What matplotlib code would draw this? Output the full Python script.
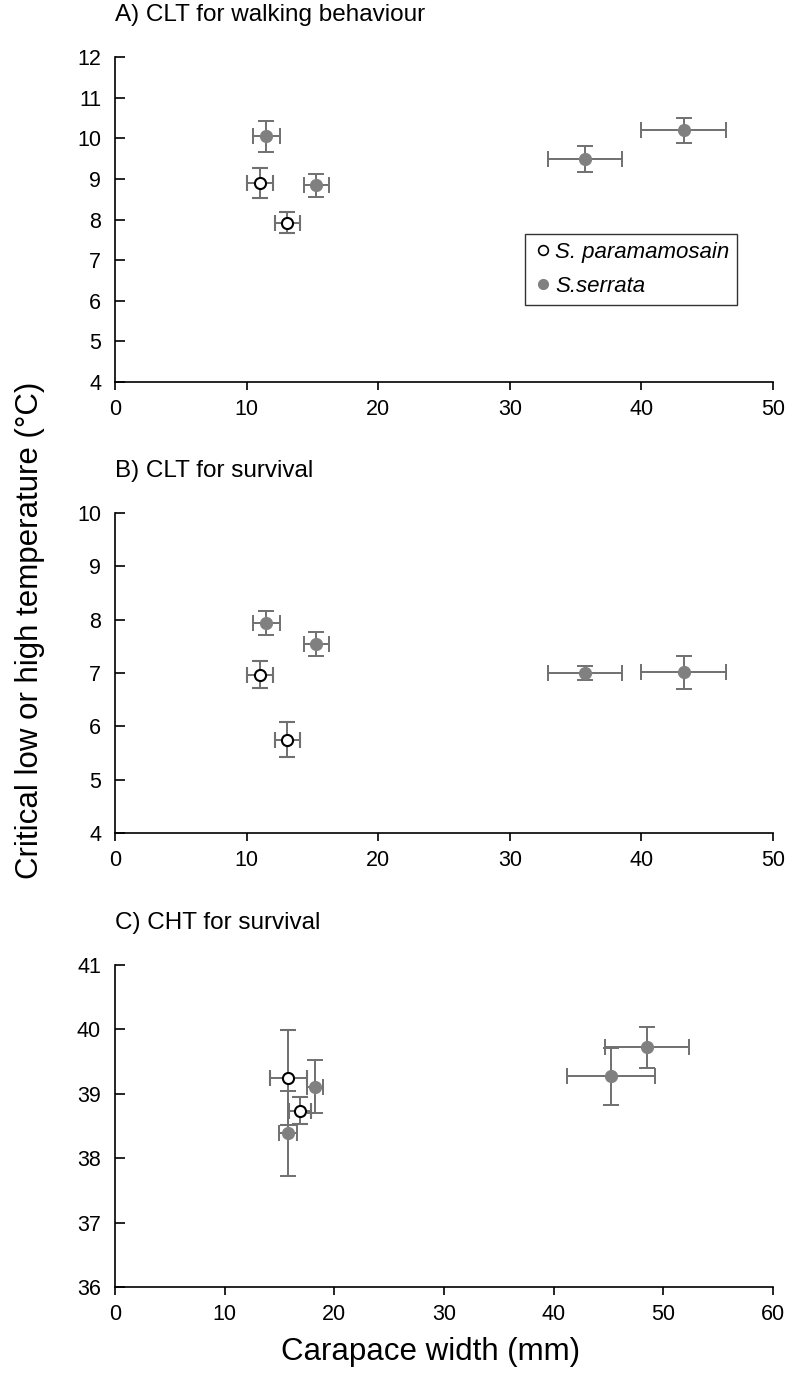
import matplotlib
matplotlib.use("Agg")
import matplotlib.pyplot as plt
from matplotlib.lines import Line2D

plt.rcParams['font.family'] = ['Liberation Sans', 'DejaVu Sans']

# carapace width (mm) and temperatures
# A) CLT for walking behaviour
a_par_x = [11.0, 13.1]
a_par_xerr = [1.0, 0.93]
a_par_y = [8.91, 7.92]
a_par_yerr = [0.37, 0.26]
a_ser_x = [11.5, 15.3, 35.7, 43.2]
a_ser_xerr = [1.0, 0.95, 2.8, 3.2]
a_ser_y = [10.05, 8.84, 9.49, 10.20]
a_ser_yerr = [0.38, 0.28, 0.32, 0.31]

# B) CLT for survival
b_par_x = [11.0, 13.1]
b_par_xerr = [1.0, 0.93]
b_par_y = [6.97, 5.75]
b_par_yerr = [0.26, 0.33]
b_ser_x = [11.5, 15.3, 35.7, 43.2]
b_ser_xerr = [1.0, 0.95, 2.8, 3.2]
b_ser_y = [7.94, 7.54, 7.00, 7.01]
b_ser_yerr = [0.23, 0.23, 0.13, 0.31]

# C) CHT for survival
c_par_x = [15.8, 16.9]
c_par_xerr = [1.7, 1.0]
c_par_y = [39.25, 38.74]
c_par_yerr = [0.74, 0.21]
c_ser_x = [15.8, 18.2, 45.2, 48.5]
c_ser_xerr = [0.82, 0.73, 4.0, 3.8]
c_ser_y = [38.39, 39.11, 39.27, 39.72]
c_ser_yerr = [0.66, 0.41, 0.44, 0.32]

titles = ["A) CLT for walking behaviour", "B) CLT for survival", "C) CHT for survival"]
xlims = [(0, 50), (0, 50), (0, 60)]
ylims = [(4, 12), (4, 10), (36, 41)]

err_col = '#707070'
ser_col = '#808080'

fig = plt.figure(figsize=(7.93, 13.89), dpi=100)
W, H = 793, 1389
boxes = [(57, 382), (513, 833), (965, 1287)]
axes = []
for top, bot in boxes:
    ax = fig.add_axes([115 / W, 1 - bot / H, 658 / W, (bot - top) / H])
    axes.append(ax)

data = [
    (a_par_x, a_par_xerr, a_par_y, a_par_yerr, a_ser_x, a_ser_xerr, a_ser_y, a_ser_yerr),
    (b_par_x, b_par_xerr, b_par_y, b_par_yerr, b_ser_x, b_ser_xerr, b_ser_y, b_ser_yerr),
    (c_par_x, c_par_xerr, c_par_y, c_par_yerr, c_ser_x, c_ser_xerr, c_ser_y, c_ser_yerr),
]

for ax, d, title, xl, yl in zip(axes, data, titles, xlims, ylims):
    px, pxe, py, pye, sx, sxe, sy, sye = d
    ax.errorbar(sx, sy, xerr=sxe, yerr=sye, fmt='o', color=ser_col, ecolor=err_col,
                elinewidth=1.4, capsize=6, capthick=1.4, markersize=8.5, zorder=3)
    ax.errorbar(px, py, xerr=pxe, yerr=pye, fmt='o', mfc='white', mec='black', mew=1.5,
                ecolor=err_col, elinewidth=1.4, capsize=6, capthick=1.4, markersize=8, zorder=4)
    ax.set_xlim(*xl)
    ax.set_ylim(*yl)
    ax.set_xticks(range(xl[0], xl[1] + 1, 10))
    ax.set_yticks(range(yl[0], yl[1] + 1))
    for s in ['top', 'right']:
        ax.spines[s].set_visible(False)
    for s in ['left', 'bottom']:
        ax.spines[s].set_linewidth(1.2)
    ax.tick_params(axis='y', direction='in', length=7, width=1.2, labelsize=15.5, pad=10)
    ax.tick_params(axis='x', direction='out', length=6, width=1.2, labelsize=15.5, pad=6)
    ax.text(0.0, 1.0 + 42 / 322, title, transform=ax.transAxes, ha='left', va='center',
            fontsize=17.5)

handles = [
    Line2D([], [], ls='none', marker='o', mfc='white', mec='black', mew=1.2, ms=7),
    Line2D([], [], ls='none', marker='o', color=ser_col, ms=7),
]
leg = axes[0].legend(handles, ['S. paramamosain', 'S.serrata'], loc='upper left',
                     bbox_to_anchor=(0.623, 0.455), frameon=True, fancybox=False,
                     edgecolor='black', prop={'style': 'italic', 'size': 16},
                     handletextpad=0.1, handlelength=0.9, borderpad=0.35,
                     labelspacing=0.6, borderaxespad=0)
leg.get_frame().set_linewidth(1.0)

fig.text(30 / W, 1 - 630 / H, 'Critical low or high temperature (\u00b0C)', rotation=90,
         ha='center', va='center', fontsize=22.5)
fig.text(431 / W, 1 - 1352 / H, 'Carapace width (mm)', ha='center', va='center',
         fontsize=22.5)

fig.savefig('out.png', dpi=100)
